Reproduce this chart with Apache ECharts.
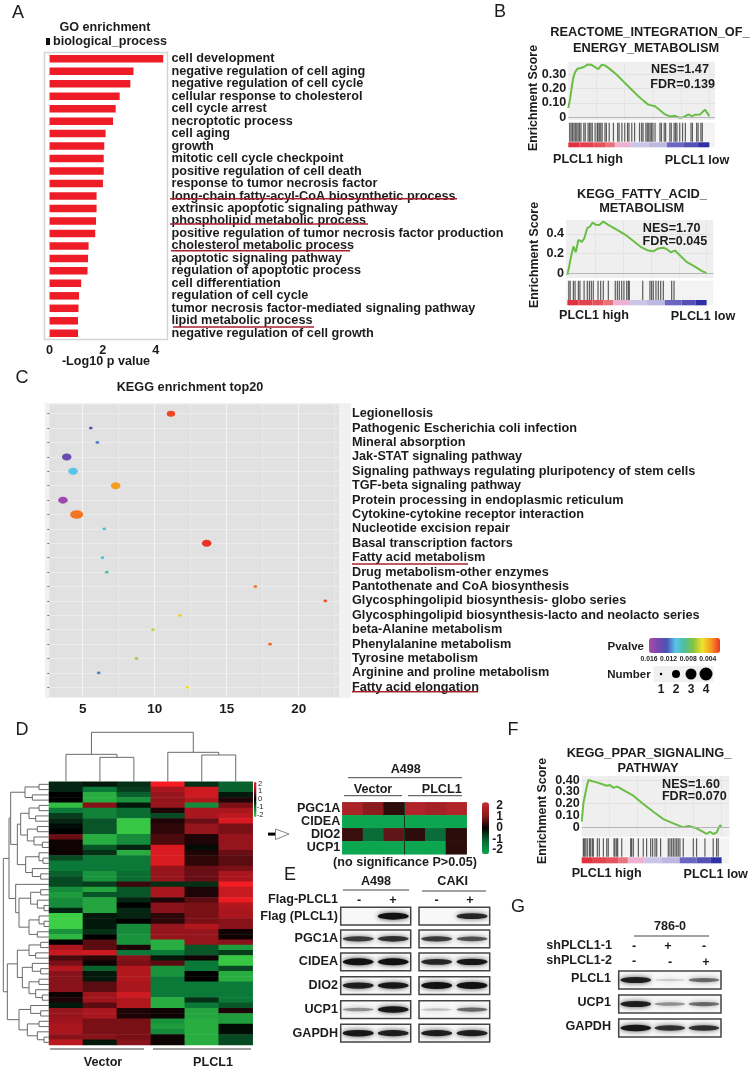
<!DOCTYPE html>
<html><head><meta charset="utf-8">
<script src="https://cdn.jsdelivr.net/npm/echarts@6/dist/echarts.min.js"></script>
<style>html,body{margin:0;padding:0;background:#fff}#c{width:755px;height:1070px;filter:blur(.4px)}</style></head>
<body><div id="c"></div>
<script>
const FONT='"Liberation Sans"';
// ---------- Panel A
const goTerms=["cell development","negative regulation of cell aging","negative regulation of cell cycle","cellular response to cholesterol","cell cycle arrest","necroptotic process","cell aging","growth","mitotic cell cycle checkpoint","positive regulation of cell death","response to tumor necrosis factor","long-chain fatty-acyl-CoA biosynthetic process","extrinsic apoptotic signaling pathway","phospholipid metabolic process","positive regulation of tumor necrosis factor production","cholesterol metabolic process","apoptotic signaling pathway","regulation of apoptotic process","cell differentiation","regulation of cell cycle","tumor necrosis factor-mediated signaling pathway","lipid metabolic process","negative regulation of cell growth"];
const goValues=[4.28,3.16,3.04,2.64,2.49,2.39,2.11,2.06,2.04,2.04,2.01,1.77,1.77,1.75,1.72,1.47,1.45,1.43,1.19,1.11,1.09,1.07,1.07];
const goNudge=[-1,0,-1,0,-1,-1,-1,-3,-3,-4,-2,-2,-2,-3,-2,-1,1,1,0,-1,-1,1,3];
// ---------- Panel B / F
const es1Rank=[0,1.2,2.4,3.5,4.7,6.6,9.5,11.8,13.5,16.5,18.9,21.3,23.6,26,29.6,34.3,39,43.7,48.5,53.2,56.7,61.5,65,68.6,72.1,75.7,79.2,82,85.1,87.5,89.8,93.4,94.8,96.9,98.1,100];
const es1Score=[.065,.123,.205,.274,.314,.34,.347,.356,.37,.367,.351,.337,.367,.363,.337,.298,.251,.205,.158,.116,.088,.077,.049,.019,.005,.009,-.005,.002,.019,.007,.016,.019,.005,.053,.035,.007];
const es1Rug=[1,2,3,4,5,6,7,8,9,11,12,14,15,16,17,19,20.5,21,22,23,24,26,27,29,32,35,36,38,40,42,43,45,47,50.5,52,53,55,56,57,58,59,60,61.5,65,66,68,69,72,73,75,76,77,79,81,83,87,88,91,92,94,95];
const es2Rank=[0,1,2.4,4.3,6,7.9,10.3,12,14.3,16.3,18.1,20.6,23,25.8,29.4,35.4,41.4,47.4,53.3,58.1,61.7,65.3,68.9,71.3,74.2,77.3,80.9,85.6,91.6,96.4,100];
const es2Score=[-.016,.049,.154,.272,.213,.338,.318,.351,.459,.475,.515,.492,.489,.525,.492,.443,.393,.328,.262,.23,.223,.252,.259,.246,.213,.23,.18,.115,.066,.023,0];
const es2Rug=[1,2,4.3,5.5,7.9,9,12,14.3,15.8,17.2,18.6,22,23.9,25.8,29.4,34.4,35.9,37.3,39,40.6,42.6,43.8,44.5,54.1,59.3,60.5,61.7,63.6,65.3,67,68.9,74.9,76.6];
const es3Rank=[0,1.2,2.4,3.6,4.8,7.1,10.7,14.3,17.9,20.2,22.6,25.5,29.8,36.9,44,51.2,58.3,65.5,72.6,76.2,81,84.5,89.3,91.7,94,96.4,98.8,100];
const es3Score=[.048,.203,.273,.344,.4,.392,.38,.366,.352,.358,.335,.344,.315,.268,.197,.132,.07,.034,0,.011,-.003,-.023,-.056,-.037,-.056,-.045,.017,.006];
const es3Rug=[1.2,1.9,2.9,4,5.5,6.4,7.6,8.3,11.2,12.6,15.5,17.9,19,23.1,23.8,25,25.7,28.6,35,35.7,36.9,40.5,44,46.4,49.3,50.7,52.4,53.6,56.4,61.9,63.1,64.3,65.5,66.7,67.9,69,70.2,72.6,79.8,82.1,88.1,94,96.4,97.6];
const stripEdges=[0,8,18,26,33,45,57,70,82,92,100];
const stripColors=['#e2303e','#e4424e','#e6525c','#e8737c','#eeb1d2','#c9c6e8','#bdb8e2','#6a66c2','#5450b6','#2f2fa6'];
// ---------- Panel C
const keggTerms=["Legionellosis","Pathogenic Escherichia coli infection","Mineral absorption","Jak-STAT signaling pathway","Signaling pathways regulating pluripotency of stem cells","TGF-beta signaling pathway","Protein processing in endoplasmic reticulum","Cytokine-cytokine receptor interaction","Nucleotide excision repair","Basal transcription factors","Fatty acid metabolism","Drug metabolism-other enzymes","Pantothenate and CoA biosynthesis","Glycosphingolipid biosynthesis- globo series","Glycosphingolipid biosynthesis-lacto and neolacto series","beta-Alanine metabolism","Phenylalanine metabolism","Tyrosine metabolism","Arginine and proline metabolism","Fatty acid elongation"];
const keggRich=[11.13,5.56,6.02,3.89,4.33,7.29,3.63,4.58,6.5,13.61,6.37,6.67,16.99,21.85,11.76,9.88,18.01,8.73,6.11,12.25];
const keggCount=[2,1,1,3,3,3,3,4,1,3,1,1,1,1,1,1,1,1,1,1];
const keggP=[.0018,.0131,.0116,.0135,.0105,.0033,.0156,.0026,.0099,.0014,.0102,.0091,.0026,.002,.0046,.0058,.0024,.0064,.0116,.005];
const rainbow=['#ee2f24','#f59a1e','#f0e12c','#86c440','#4dbf9a','#58c4ea','#4a54b4','#7a48ae','#a84bab'];
// ---------- Panel D
const geneCol1=[-.3,-.3,0,0,-1.8,-1,-.5,-.3,-.1,0,.7,.1,.1,.1,-.6,-1,-1,-.8,-.6,-.6,-1.2,-1.4,-1.2,-1.2,-.3,-2,-2,-2,-1.3,-1.7,0,1.2,1.5,.5,.8,1.3,.9,.9,.9,.9,.1,.2,-.2,1,1,1.1,1.2,1.2,.9,1.4];
const geneCol2=[-.2,-1,-1.6,-1.6,.9,-1.1,-1.1,-.7,-.7,-.7,-1.6,-1.6,-.7,-.4,-1,-1,-1,-1.3,-1.3,-.5,-1.5,-.7,-1.5,-1.5,-1.5,-.2,-.2,-.2,-.4,0,.6,.6,1.6,.3,.1,-.8,-.2,-.2,.6,.6,1.1,1.1,.6,1.2,1.2,.8,.8,.8,.9,-.2];
const geneCol3=[-.4,-.5,-.8,-1.3,-.2,-.9,-.9,-1.9,-1.9,-1.9,-1.2,-1.2,-.3,-1.6,-1,-1,-1,-.9,-.9,.4,-.7,-.7,-.3,0,-.3,-.3,0,-1.2,-1.2,-1.3,-1.3,.2,-1,.9,.8,1.3,1.3,1.3,1.2,1.2,1.6,1.3,1.3,.2,.2,.8,.8,.8,.8,.9];
const geneCol4=[2,1.2,1,1,1,.2,-.6,.2,.3,.3,.5,.5,1.7,1.7,1.7,1.7,1,1,1,-.4,1.2,1.2,.2,.9,.9,.3,.3,1,1,1,-1.6,-1.6,-1,-.2,.6,-1.3,-1.3,-1,-1,-1,-1,-1.6,-1.6,.1,.1,-1.3,-1.4,-1.2,.1,.1];
const geneCol5=[-.4,1.6,1.6,1.3,-1.2,1.2,1.2,.7,1,1,.2,.2,-.1,.2,.3,.3,.7,.7,.7,-.4,.2,.2,.6,.8,.8,.8,.8,1.3,1,1,1,-.7,-.7,.1,-1,-1,0,0,-1,-1,-1,-.4,-1,-1.5,-1.5,-1.6,-1.6,-1.6,-1.6,-1.6];
const geneCol6=[-.8,-.8,-.2,.2,.8,1.2,1.4,1.7,.8,.8,1,1,1,.7,.6,.6,.8,1.2,1.2,2,1.5,1.5,1.9,1.3,1.2,1.2,.9,.9,.1,.1,.9,-1.4,-.5,-1.9,-1.9,-.6,-1.6,-1.6,-1,-1,-1,-1,-.7,.2,-1.4,-1.4,-.1,-.1,-.6,-.6];
const geneCols=[geneCol1,geneCol2,geneCol3,geneCol4,geneCol5,geneCol6];
// dendrograms: [height, left, right], leaf = row or column index
const rowTree=[137,[120,[115,[72,[30,0,1],[50,2,3]],[95,[85,[60,[30,4,5],[40,6,7]],[65,[35,8,9],[45,10,[20,11,12]]]],[70,[30,13,[18,14,15]],[50,16,[25,17,18]]]]],[100,19,[90,[55,[25,20,21],[35,22,[15,23,24]]],[60,[30,25,[15,26,27]],[35,28,29]]]]],[125,[95,[60,[25,30,31],[40,32,33]],[80,[50,34,[25,35,36]],[60,[30,37,38],[40,39,[20,40,41]]]]],[90,[55,42,[25,43,44]],[65,[30,45,46],[35,47,[15,48,49]]]]]];
const colTree=[148,[82,0,[73,1,2]],[88,3,[80,4,5]]];
const focusGenes=["PGC1A","CIDEA","DIO2","UCP1"];
const focusValues=[[1.5,1.0,.3,1.6,1.4,1.6],[-2,-2,-2,-2,-2,-2],[.4,-1,.7,.3,-1,.3],[-2,-2,-2,-2,-2,.3]];
// ---------- Panels E / G: band strength per lane
const blotNames=["Flag (PLCL1)","PGC1A","CIDEA","DIO2","UCP1","GAPDH"];
const blotA498=[[0,1],[.7,.75],[1,1],[.85,.9],[.35,.9],[.9,.85]];
const blotCAKI=[[0,.8],[.7,.6],[.8,.9],[1,1],[.2,.5],[.85,.85]];
const blot786Names=["PLCL1","UCP1","GAPDH"];
const blot786=[[.85,.15,.5],[.85,.35,.5],[.9,.75,.75]];

// ---------- helpers
const grid=[],xAxis=[],yAxis=[],series=[],visualMap=[],gfx=[];
function addGrid(left,top,width,height,extra){grid.push(Object.assign({left,top,width,height,containLabel:false,show:false},extra||{}));return grid.length-1;}
function hiddenAxis(g,o){return Object.assign({gridIndex:g,show:false},o);}
function T(x,y,text,o){o=o||{};gfx.push({type:'text',x,y,rotation:o.rot||0,z:50,silent:true,style:{text,fontFamily:FONT,fontSize:o.size||13,fontWeight:o.weight||'bold',fill:o.fill||'#1c1c1c',align:o.align||'center',verticalAlign:'middle'}});}
function L(x1,y1,x2,y2,color,w){gfx.push({type:'line',z:49,silent:true,shape:{x1,y1,x2,y2},style:{stroke:color||'#333',lineWidth:w||1}});}
const RED='#a8202e';

// ---------- A
{
 const g=addGrid(44.5,52.5,123,287,{show:true,borderColor:'#d4d4d4',borderWidth:1.5});
 xAxis.push({gridIndex:g,type:'value',min:-.19,max:4.44,splitLine:{show:false},axisLine:{show:false},axisTick:{show:false,customValues:[0,2,4]},axisLabel:{customValues:[0,2,4],margin:4,fontFamily:FONT,fontWeight:'bold',fontSize:12.7,color:'#1c1c1c'}});
 yAxis.push({gridIndex:g,type:'category',inverse:true,position:'right',axisLine:{show:false},axisTick:{show:false},
  data:goTerms.map((t,i)=>({value:t,textStyle:goNudge[i]<0?{padding:[0,0,-2*goNudge[i],0]}:{padding:[2*goNudge[i],0,0,0]}})),
  axisLabel:{interval:0,margin:4,fontFamily:FONT,fontWeight:'bold',fontSize:12.7,color:'#1c1c1c'}});
 series.push({type:'bar',xAxisIndex:xAxis.length-1,yAxisIndex:yAxis.length-1,data:goValues,barWidth:7.5,itemStyle:{color:'#ed1c26'},silent:true});
 T(105,28,'GO enrichment',{size:12.6});T(110,41.5,'biological_process',{size:12.6});
 gfx.push({type:'rect',z:49,shape:{x:46,y:38,width:4,height:7},style:{fill:'#111'}});
 T(106,362,'-Log10 p value',{size:12.6});
 L(170,198.7,457,198.7,RED,1.5);L(170,224,368,224,RED,1.5);L(171,250.7,350,250.7,RED,1.5);L(173,327,314,327,RED,1.5);
}
// ---------- GSEA builder
function gsea(c){
 const xr={min:c.xMin,max:c.xMax};
 const labelStyle={showMinLabel:true,showMaxLabel:true,margin:c.margin||2,formatter:v=>v===0?'0':v.toFixed(c.dec),fontFamily:FONT,fontWeight:'bold',fontSize:c.tickSize||12.6,color:'#1c1c1c'};
 let g=addGrid(c.left,c.curveTop,c.width,c.curveH,{show:true,backgroundColor:'#efefef',borderWidth:0});
 xAxis.push({gridIndex:g,type:'value',...xr,axisLine:{show:false},axisLabel:{show:false},axisTick:{show:false,customValues:[20,40,60,80,100]},splitLine:{show:true,lineStyle:{color:'#e5e5e5',width:1}}});
 yAxis.push({gridIndex:g,type:'value',min:c.yMin,max:c.yMax,axisLine:{show:false},axisTick:{show:false,customValues:c.yTicks},splitLine:{show:true,lineStyle:{color:'#e2e2e2'}},axisLabel:{customValues:c.yTicks,...labelStyle}});
 const yCurve=yAxis.length-1;
 if(c.yTicks2) yAxis.push({gridIndex:g,type:'value',position:'left',min:c.yMin,max:c.yMax,axisLine:{show:false},axisTick:{show:false,customValues:c.yTicks2},splitLine:{show:false},axisLabel:{customValues:c.yTicks2,...labelStyle}});
 series.push({type:'line',xAxisIndex:xAxis.length-1,yAxisIndex:yCurve,showSymbol:false,silent:true,clip:false,lineStyle:{color:'#6abd45',width:2},data:c.rank.map((r,i)=>[r,c.score[i]]),
   markLine:{silent:true,symbol:'none',label:{show:false},lineStyle:{color:'#b5b5b5',width:1,type:'solid'},data:[{yAxis:0}]}});
 g=addGrid(c.left,c.rugTop,c.width,c.rugH,{show:true,backgroundColor:'#f3f3f3',borderWidth:0});
 xAxis.push(hiddenAxis(g,{type:'value',...xr}));yAxis.push(hiddenAxis(g,{type:'value',min:0,max:1}));
 series.push({type:'custom',xAxisIndex:xAxis.length-1,yAxisIndex:yAxis.length-1,silent:true,data:c.rug.map(v=>[v]),encode:{x:0},
  renderItem:(p,api)=>{const a=api.coord([api.value(0),0]),b=api.coord([api.value(0),1]);return{type:'line',shape:{x1:a[0],y1:a[1],x2:b[0],y2:b[1]},style:{stroke:'#2b2b2b',lineWidth:1.2,opacity:.75}};}});
 g=addGrid(c.left,c.stripTop,c.width,c.stripH,{show:true,backgroundColor:'#f3f3f3',borderWidth:0});
 xAxis.push(hiddenAxis(g,{type:'value',...xr}));yAxis.push(hiddenAxis(g,{type:'value',min:0,max:1}));
 series.push({type:'custom',xAxisIndex:xAxis.length-1,yAxisIndex:yAxis.length-1,silent:true,data:stripColors.map((s,i)=>[stripEdges[i],stripEdges[i+1],i]),encode:{x:[0,1]},
  renderItem:(p,api)=>{const a=api.coord([api.value(0),1]),b=api.coord([api.value(1),0]);return{type:'rect',shape:{x:a[0],y:a[1],width:b[0]-a[0],height:b[1]-a[1]},style:{fill:stripColors[api.value(2)]}};}});
}
gsea({left:568.3,width:146.7,curveTop:62,curveH:58,rugTop:122.7,rugH:19,stripTop:142.3,stripH:5,xMin:0,xMax:104,yMin:-.02,yMax:.387,yTicks:[0,.1,.2,.3],dec:2,rank:es1Rank,score:es1Score,rug:es1Rug});
T(650,32,'REACTOME_INTEGRATION_OF_',{size:12.8});T(646,48,'ENERGY_METABOLISM',{size:12.8});
T(680,70,'NES=1.47',{size:12.6});T(682.7,85,'FDR=0.139',{size:12.6});
T(588,160,'PLCL1 high',{size:12.6});T(697,161,'PLCL1 low',{size:12.6});T(534,98,'Enrichment Score',{size:12.4,rot:Math.PI/2});
gsea({left:566,width:147.3,curveTop:220,curveH:58,rugTop:280.7,rugH:19.3,stripTop:300,stripH:5.3,xMin:-1,xMax:104.8,yMin:-.049,yMax:.541,yTicks:[0,.2,.4],dec:1,rank:es2Rank,score:es2Score,rug:es2Rug});
T(642,194,'KEGG_FATTY_ACID_',{size:12.8});T(641.7,208,'METABOLISM',{size:12.8});
T(671.7,229,'NES=1.70',{size:12.6});T(675,242,'FDR=0.045',{size:12.6});
T(594,316,'PLCL1 high',{size:12.6});T(703,317,'PLCL1 low',{size:12.6});T(535,255,'Enrichment Score',{size:12.4,rot:Math.PI/2});
gsea({left:581.7,width:147.6,curveTop:776,curveH:60.7,rugTop:838.3,rugH:18.5,stripTop:857.3,stripH:6,xMin:0,xMax:105.5,yMin:-.079,yMax:.434,yTicks:[0,.2,.4],yTicks2:[.1,.3],dec:2,rank:es3Rank,score:es3Score,rug:es3Rug});
T(649,753,'KEGG_PPAR_SIGNALING_',{size:12.8});T(648,768.7,'PATHWAY',{size:12.8});
T(691,785,'NES=1.60',{size:12.6});T(694.3,797,'FDR=0.070',{size:12.6});
T(606.7,874,'PLCL1 high',{size:12.6});T(715.7,875,'PLCL1 low',{size:12.6});T(542.7,811,'Enrichment Score',{size:12.4,rot:Math.PI/2});
// ---------- C
{
 gfx.push({type:'rect',z:-1,shape:{x:45,y:403,width:306,height:295},style:{fill:'#f1f1f1'}});
 const g=addGrid(49.3,404.5,289.7,292.5,{show:true,backgroundColor:'#e1e1e1',borderWidth:0});
 const xMin=2.68,xMax=22.8,yMin=-.64,yMax=19.67,rows=keggTerms.map((t,i)=>i);
 xAxis.push({gridIndex:g,type:'value',min:xMin,max:xMax,axisLine:{show:false},axisTick:{show:false,customValues:[5,10,15,20]},splitLine:{show:true,lineStyle:{color:'#f4f4f4',width:1.2}},axisLabel:{customValues:[5,10,15,20],margin:5,fontFamily:FONT,fontWeight:'bold',fontSize:13.5,color:'#1c1c1c'}});
 const xMain=xAxis.length-1;
 xAxis.push({gridIndex:g,type:'value',min:xMin,max:xMax,axisLine:{show:false},axisLabel:{show:false},axisTick:{show:false,customValues:[7.5,12.5,17.5,22.5]},splitLine:{show:true,lineStyle:{color:'#ebebeb',width:1}}});
 yAxis.push({gridIndex:g,type:'value',inverse:true,position:'right',min:yMin,max:yMax,axisLine:{show:false},axisTick:{show:false,customValues:rows},splitLine:{show:true,lineStyle:{color:'#ececec',width:1}},
   axisLabel:{customValues:rows,margin:13,formatter:v=>keggTerms[v],fontFamily:FONT,fontWeight:'bold',fontSize:12.7,color:'#1c1c1c'}});
 const yMain=yAxis.length-1;
 yAxis.push({gridIndex:g,type:'value',inverse:true,position:'left',min:yMin,max:yMax,axisLine:{show:false},splitLine:{show:false},axisLabel:{show:false},axisTick:{show:true,customValues:rows,length:2,lineStyle:{color:'#777',width:1}}});
 const sizes={1:[3.8,2.8],2:[8.4,6],3:[9.6,7],4:[13,8.5]};
 const si=series.length;
 series.push({type:'scatter',xAxisIndex:xMain,yAxisIndex:yMain,silent:true,symbolSize:d=>sizes[d[2]],itemStyle:{opacity:1},data:keggRich.map((v,i)=>[v,i,keggCount[i],keggP[i]])});
 visualMap.push({type:'continuous',seriesIndex:si,dimension:3,min:.0014,max:.016,orient:'horizontal',inverse:true,left:649,top:638,padding:0,itemWidth:15,itemHeight:71,calculable:false,realtime:false,text:['',''],showLabel:false,inRange:{color:rainbow},hoverLink:false});
 T(190,387,'KEGG enrichment top20',{size:12.7});
 L(352,564,468,564,RED,1.5);L(352,691.7,478,691.7,RED,1.5);
 T(625.7,647,'Pvalve',{size:11.5});
 ['0.016','0.012','0.008','0.004'].forEach((t,i)=>T(649+19.6*i,659.3,t,{size:6.8}));
 T(629,675,'Number',{size:11.5});
 const g2=addGrid(653.5,666,60,16,{show:true,backgroundColor:'#f0f0f0',borderWidth:0});
 const cats=['1','2','3','4'],dots=[2.5,8,11,13];
 xAxis.push({gridIndex:g2,type:'category',data:cats,axisLine:{show:false},axisTick:{show:false},axisLabel:{margin:2,fontFamily:FONT,fontWeight:'bold',fontSize:12,color:'#1c1c1c'}});
 yAxis.push(hiddenAxis(g2,{type:'value',min:0,max:1}));
 series.push({type:'scatter',xAxisIndex:xAxis.length-1,yAxisIndex:yAxis.length-1,silent:true,clip:false,itemStyle:{color:'#000',opacity:1},symbolSize:d=>dots[d[2]],data:cats.map((c,i)=>[c,.5,i])});
}
// ---------- D
function flatten(n,out){ if(typeof n==='number')return{pos:n,h:0}; const a=flatten(n[1],out),b=flatten(n[2],out); out.push([a.pos,a.h,b.pos,b.h,n[0]]); return{pos:(a.pos+b.pos)/2,h:n[0]}; }
{
 const leftX=49,W=203.7,topY=781.7,H=263.3,colNames=['V1','V2','V3','P1','P2','P3'],rowIdx=geneCol1.map((v,i)=>String(i));
 const g=addGrid(leftX,topY,W,H);
 xAxis.push(hiddenAxis(g,{type:'category',data:colNames}));
 yAxis.push(hiddenAxis(g,{type:'category',inverse:true,data:rowIdx}));
 const si=series.length;const cells=[];
 geneCols.forEach((col,c)=>col.forEach((v,r)=>cells.push([c,r,v])));
 series.push({type:'heatmap',xAxisIndex:xAxis.length-1,yAxisIndex:yAxis.length-1,silent:true,data:cells,itemStyle:{borderWidth:0}});
 visualMap.push({type:'continuous',seriesIndex:si,min:-2,max:2,left:254,top:782,padding:0,itemWidth:2.5,itemHeight:35,calculable:false,showLabel:false,text:['',''],hoverLink:false,inRange:{color:['#3ccf45','#0b7a38','#000000','#96141c','#f51d23']}});
 [['2',784],['1',791],['0',799],['-1',807],['-2',815]].forEach(a=>T(260,a[1],a[0],{size:7.5,weight:'normal',align:'center'}));
 // column tree
 const gt=addGrid(leftX,732.3,W,49.4);const topM=[];flatten(colTree,topM);
 xAxis.push(hiddenAxis(gt,{type:'value',min:-.5,max:5.5}));yAxis.push(hiddenAxis(gt,{type:'value',min:0,max:148}));
 const tree=(swap)=>(p,api)=>{const f=(pos,h)=>api.coord(swap?[h,pos]:[pos,h]);const pts=[f(api.value(0),api.value(1)),f(api.value(0),api.value(4)),f(api.value(2),api.value(4)),f(api.value(2),api.value(3))];return{type:'polyline',shape:{points:pts},style:{stroke:'#6a6a6a',lineWidth:1,fill:null}};};
 series.push({type:'custom',xAxisIndex:xAxis.length-1,yAxisIndex:yAxis.length-1,silent:true,clip:false,data:topM,renderItem:tree(false)});
 // row tree
 const gl=addGrid(2,topY,47,H);const rowM=[];flatten(rowTree,rowM);
 xAxis.push(hiddenAxis(gl,{type:'value',inverse:true,min:0,max:141}));yAxis.push(hiddenAxis(gl,{type:'value',inverse:true,min:-.5,max:49.5}));
 series.push({type:'custom',xAxisIndex:xAxis.length-1,yAxisIndex:yAxis.length-1,silent:true,clip:false,data:rowM,renderItem:tree(true)});
 L(50,1049,144,1049,'#444',1);L(153,1049,251,1049,'#444',1);
 T(103,1063,'Vector',{size:12.6});T(213,1063,'PLCL1',{size:12.6});
 // arrow
 gfx.push({type:'rect',z:49,shape:{x:268,y:832.6,width:8,height:3},style:{fill:'#000'}});
 gfx.push({type:'polygon',z:49,shape:{points:[[275.5,829],[289,834],[275.5,839.5]]},style:{fill:'#fff',stroke:'#666',lineWidth:.8}});
 // focus heatmap
 const g2=addGrid(342.3,802.3,124.4,52);
 xAxis.push(hiddenAxis(g2,{type:'category',data:colNames}));
 yAxis.push({gridIndex:g2,type:'category',inverse:true,data:focusGenes,axisLine:{show:false},axisTick:{show:false},axisLabel:{margin:2,interval:0,fontFamily:FONT,fontWeight:'bold',fontSize:12.6,color:'#1c1c1c'}});
 const si2=series.length,cells2=[];
 focusValues.forEach((row,r)=>row.forEach((v,c)=>cells2.push([c,r,v])));
 series.push({type:'heatmap',xAxisIndex:xAxis.length-1,yAxisIndex:yAxis.length-1,silent:true,data:cells2,itemStyle:{borderWidth:0}});
 visualMap.push({type:'continuous',seriesIndex:si2,min:-2,max:2,left:482,top:802.3,padding:0,itemWidth:7,itemHeight:52,calculable:false,showLabel:false,text:['',''],hoverLink:false,inRange:{color:['#0da650','#0a6c38','#050505','#8a1c1e','#c92a30']}});
 [['2',806],['1',817],['0',828],['-1',840],['-2',850]].forEach(a=>T(503,a[1],a[0],{size:12,align:'right'}));
 L(404.5,802.3,404.5,854.3,'#153a22',1);
 T(405.7,770,'A498',{size:12.6});L(348,777.7,462,777.7,'#444',1);
 T(373,790,'Vector',{size:12.6});L(344,795.7,402,795.7,'#444',1);
 T(441.7,790,'PLCL1',{size:12.6});L(408,795.7,462,795.7,'#444',1);
 T(405,863,'(no significance P>0.05)',{size:12.6});
}
// ---------- blots
function blot(left,top,w,h,vals){
 const g=addGrid(left,top,w,h,{show:true,backgroundColor:'#f8f8f8',borderColor:'#444',borderWidth:1.5});
 const lanes=vals.map((v,i)=>'L'+i);
 xAxis.push(hiddenAxis(g,{type:'category',data:lanes}));yAxis.push(hiddenAxis(g,{type:'value',min:0,max:1}));
 series.push({type:'scatter',xAxisIndex:xAxis.length-1,yAxisIndex:yAxis.length-1,silent:true,symbol:'circle',
  symbolSize:d=>d[2]===0?0:[Math.min(w/vals.length*.9,31),1.5+5.5*d[2]],
  data:vals.map((v,i)=>({value:[lanes[i],.5,v],itemStyle:{opacity:Math.min(1,v*1.05),color:'#111',shadowBlur:5,shadowColor:'rgba(0,0,0,.75)'}}))});
}
{
 const rowsTop=[907.3,930,953,976.7,1000.7,1024.3],bh=17.7;
 blotNames.forEach((n,i)=>{blot(340.7,rowsTop[i],70,bh,blotA498[i]);blot(419,rowsTop[i],70.7,bh,blotCAKI[i]);T(338,rowsTop[i]+bh/2,n,{size:12.6,align:'right'});});
 T(338,900,'Flag-PLCL1',{size:12.6,align:'right'});
 [[359,'-'],[393,'+'],[436.7,'-'],[470,'+']].forEach(a=>T(a[0],901,a[1],{size:12.6}));
 T(376,881.7,'A498',{size:12.6});L(343,890,409,890,'#444',1);
 T(452.7,882,'CAKI',{size:12.6});L(422,891,486,891,'#444',1);
 const gTop=[971,995,1019];
 blot786Names.forEach((n,i)=>{blot(618.7,gTop[i],102.3,18,blot786[i]);T(611,gTop[i]+8,n,{size:12.6,align:'right'});});
 T(670,926.7,'786-0',{size:12.6});L(634,936,709,936,'#444',1);
 T(612,946,'shPLCL1-1',{size:12.6,align:'right'});T(612,960.7,'shPLCL1-2',{size:12.6,align:'right'});
 [[634,947,'-'],[668,947,'+'],[704,947,'-'],[634,962,'-'],[670,963,'-'],[706,963,'+']].forEach(a=>T(a[0],a[1],a[2],{size:12.6}));
}
// panel letters
[['A',18,13],['B',500,12],['C',22,378],['D',22,730],['E',290,875],['F',513,730],['G',518,907]].forEach(a=>T(a[1],a[2],a[0],{size:18,weight:'normal'}));

const chart=echarts.init(document.getElementById('c'),null,{renderer:'canvas'});
chart.setOption({animation:false,backgroundColor:'#fff',grid,xAxis,yAxis,series,visualMap,graphic:{elements:gfx}});
</script></body></html>
